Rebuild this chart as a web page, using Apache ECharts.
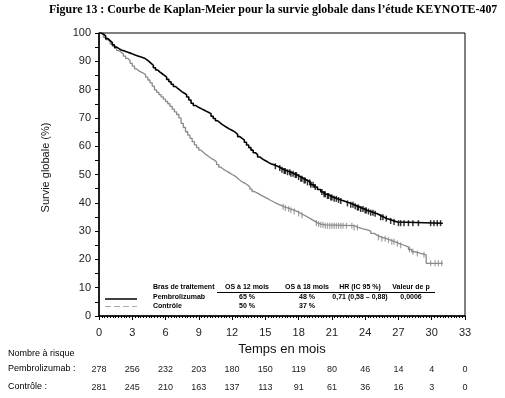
<!DOCTYPE html>
<html>
<head>
<meta charset="UTF-8">
<title>Courbe de Kaplan-Meier KEYNOTE-407</title>
<script src="https://cdn.jsdelivr.net/npm/echarts@6/dist/echarts.min.js"></script>
<style>
  html, body { margin: 0; padding: 0; background: #fff; }
  #chart { width: 505px; height: 398px; }
</style>
</head>
<body>
<div id="chart"></div>
<script type="text/javascript">
// Pembrolizumab : temps (mois) et survie globale (%)
var pembroTime = [0, 0.2, 0.4, 0.6, 0.8, 1.0, 1.2, 1.4, 1.6, 1.8, 2.0, 2.3, 2.6, 2.9, 3.2, 3.5, 3.8, 4.1, 4.3, 4.5, 4.7, 4.9, 5.1, 5.3, 5.5, 5.7, 5.9, 6.1, 6.3, 6.5, 6.7, 6.9, 7.1, 7.3, 7.5, 7.7, 7.9, 8.1, 8.3, 8.5, 8.7, 8.9, 9.1, 9.3, 9.5, 9.7, 9.9, 10.1, 10.3, 10.5, 10.7, 10.9, 11.1, 11.3, 11.5, 11.7, 11.9, 12.1, 12.3, 12.5, 12.7, 12.9, 13.1, 13.3, 13.5, 13.7, 13.9, 14.1, 14.3, 14.5, 14.7, 14.9, 15.1, 15.3, 15.5, 15.8, 16.1, 16.4, 16.7, 17.0, 17.3, 17.6, 17.9, 18.2, 18.5, 18.8, 19.1, 19.4, 19.7, 20.0, 20.3, 20.6, 20.9, 21.2, 21.5, 21.8, 22.1, 22.4, 22.7, 23.0, 23.3, 23.6, 23.9, 24.2, 24.5, 24.8, 25.1, 25.4, 25.7, 26.0, 26.3, 26.6, 26.9, 31.0];
var pembroSurv = [100, 99.6, 99, 98, 97.3, 96.6, 95.8, 95, 94.5, 94, 93.6, 93.2, 92.8, 92.3, 91.9, 91.5, 91.1, 90.6, 90.0, 89.3, 88.6, 87.7, 86.9, 86.2, 85.6, 85, 84.4, 83.6, 82.8, 81.9, 81.1, 80.4, 79.8, 79.2, 78.7, 78.2, 77.4, 76.3, 75.2, 74.4, 73.9, 73.5, 73.1, 72.7, 72.3, 71.9, 71.5, 70.6, 69.8, 69, 68.3, 67.7, 67.2, 66.7, 66.2, 65.8, 65.4, 64.9, 64.2, 63.4, 62.8, 62.2, 61.4, 60.4, 59.5, 58.6, 57.7, 57, 56.2, 55.6, 55.1, 54.7, 54.2, 53.8, 53.4, 52.9, 52.3, 51.7, 51.2, 50.8, 50.3, 49.8, 49.1, 48.5, 47.9, 47.2, 46.4, 45.6, 44.7, 43.8, 43.0, 42.4, 41.9, 41.4, 41, 40.6, 40.2, 39.8, 39.3, 38.8, 38.3, 37.8, 37.3, 36.9, 36.5, 36.1, 35.5, 34.9, 34.4, 34, 33.6, 33.2, 32.8, 32.8];
var pembroCensor = [15.9, 16.3, 16.5, 16.7, 16.8, 17.0, 17.2, 17.3, 17.5, 17.7, 17.8, 18.0, 18.2, 18.3, 18.5, 18.6, 18.8, 19.0, 19.1, 19.3, 19.5, 20.1, 20.3, 20.4, 20.6, 20.7, 20.9, 21.0, 21.2, 21.4, 21.6, 21.8, 22.4, 22.7, 22.9, 23.1, 23.3, 23.4, 23.6, 23.8, 24.0, 24.1, 24.3, 24.5, 24.7, 24.9, 25.4, 25.6, 25.9, 26.3, 26.6, 27.0, 27.2, 27.5, 27.9, 28.3, 28.8, 29.9, 30.2, 30.5, 30.8];

// Contrôle
var ctrlTime = [0, 0.2, 0.4, 0.6, 0.8, 1.0, 1.2, 1.4, 1.6, 1.8, 2.0, 2.2, 2.4, 2.6, 2.8, 3.0, 3.2, 3.4, 3.6, 3.8, 4.0, 4.2, 4.4, 4.6, 4.8, 5.0, 5.2, 5.4, 5.6, 5.8, 6.0, 6.2, 6.4, 6.6, 6.8, 7.0, 7.2, 7.4, 7.6, 7.8, 8.0, 8.2, 8.4, 8.6, 8.8, 9.0, 9.2, 9.4, 9.6, 9.8, 10.0, 10.2, 10.4, 10.6, 10.8, 11.0, 11.2, 11.4, 11.6, 11.8, 12.0, 12.2, 12.4, 12.6, 12.8, 13.0, 13.2, 13.4, 13.6, 13.8, 14.0, 14.3, 14.6, 14.9, 15.2, 15.5, 15.8, 16.1, 16.4, 16.7, 17.0, 17.3, 17.6, 17.9, 18.2, 18.5, 18.8, 19.1, 19.4, 19.7, 20.0, 20.4, 23.0, 23.4, 23.8, 24.2, 24.5, 24.8, 25.1, 25.5, 25.9, 26.3, 26.7, 27.1, 27.5, 27.9, 28.2, 28.5, 29.0, 29.5, 31.0];
var ctrlSurv = [100, 99.3, 98.5, 97.7, 97, 96.2, 95.4, 94.6, 93.8, 93.2, 92.6, 91.8, 91, 90.3, 89.3, 88.3, 87.3, 86.6, 86.2, 85.8, 85.3, 84.4, 83.4, 82.4, 81.2, 79.9, 79, 78.2, 77.4, 76.6, 75.8, 75.0, 74.1, 73.1, 72.1, 71.2, 70, 68.1, 66.6, 65.1, 63.9, 62.8, 61.6, 60.5, 59.5, 58.6, 57.9, 57.2, 56.6, 56, 55.5, 55.1, 54.4, 53.5, 52.6, 51.9, 51.4, 51.0, 50.5, 50, 49.6, 49, 48.3, 47.7, 47.2, 46.8, 46.3, 45.6, 44.8, 44, 43.4, 42.7, 42.1, 41.5, 40.8, 40.2, 39.6, 39.1, 38.6, 38.2, 37.8, 37.4, 36.9, 36.2, 35.6, 35, 34.3, 33.6, 32.9, 32.5, 32.2, 31.9, 31.3, 30.8, 30.4, 30, 29.2, 28.5, 27.8, 27.3, 26.8, 26.2, 25.6, 25, 24.4, 23.5, 22.7, 22.1, 21.6, 18.6, 18.6];
var ctrlCensor = [16.6, 16.8, 17.1, 17.3, 17.6, 18.0, 18.3, 19.6, 19.8, 20.0, 20.2, 20.4, 20.6, 20.8, 21.0, 21.2, 21.4, 21.6, 21.8, 22.0, 22.3, 22.8, 23.0, 23.3, 25.2, 25.5, 25.8, 26.1, 26.4, 26.6, 26.9, 27.2, 28.0, 28.3, 28.7, 29.3, 29.9, 30.3, 30.6, 30.9];

// Nombre à risque
var riskTicks = [0, 3, 6, 9, 12, 15, 18, 21, 24, 27, 30, 33];
var pembroRisk = [278, 256, 232, 203, 180, 150, 119, 80, 46, 14, 4, 0];
var ctrlRisk = [281, 245, 210, 163, 137, 113, 91, 61, 36, 16, 3, 0];

// Tableau de légende
var tableHead = ['Bras de traitement', 'OS à 12 mois', 'OS à 18 mois', 'HR (IC 95 %)', 'Valeur de p'];
var tablePembro = ['Pembrolizumab', '65 %', '48 %', '0,71 (0,58 \u2013 0,88)', '0,0006'];
var tableCtrl = ['Contrôle', '50 %', '37 %', '', ''];

function pairs(t, s) {
    return t.map(function (v, i) { return [v, s[i]]; });
}
// valeur de la courbe en escalier au temps t
function survAt(t, s, x) {
    var v = s[0];
    for (var i = 0; i < t.length; i++) {
        if (t[i] <= x) v = s[i];
    }
    return v;
}
function censorPts(c, t, s) {
    return c.map(function (x) { return [x, survAt(t, s, x)]; });
}

var chart = echarts.init(document.getElementById('chart'));

var txtFont = 'Liberation Sans Narrow, Liberation Sans, Arial, sans-serif';
var sansFont = 'Liberation Sans, Arial, sans-serif';
var colX = [153, 247, 307, 360, 411];
var colAlign = ['left', 'center', 'center', 'center', 'center'];

var tableGraphics = [];
[[tableHead, 287], [tablePembro, 297], [tableCtrl, 306]].forEach(function (row) {
    row[0].forEach(function (s, i) {
        if (!s) return;
        tableGraphics.push({
            type: 'text', x: colX[i], y: row[1],
            style: { text: s, fill: '#000', fontSize: 7, fontWeight: 'bold', fontFamily: txtFont, align: colAlign[i], verticalAlign: 'middle' }
        });
    });
});
tableGraphics.push(
    { type: 'line', shape: { x1: 217, y1: 292.5, x2: 435, y2: 292.5 }, style: { stroke: '#000', lineWidth: 1 } },
    { type: 'line', shape: { x1: 105, y1: 299, x2: 137, y2: 299 }, style: { stroke: '#000', lineWidth: 1.5 } },
    { type: 'line', shape: { x1: 105, y1: 306.5, x2: 137, y2: 306.5 }, style: { stroke: '#aaa', lineWidth: 1.2, lineDash: [6, 3] } },
    { type: 'text', x: 8, y: 354, style: { text: 'Nombre à risque', fill: '#000', fontSize: 9, fontFamily: txtFont, verticalAlign: 'middle' } },
    { type: 'text', x: 8, y: 369, style: { text: 'Pembrolizumab :', fill: '#000', fontSize: 9, fontFamily: txtFont, verticalAlign: 'middle' } },
    { type: 'text', x: 8, y: 387, style: { text: 'Contrôle :', fill: '#000', fontSize: 9, fontFamily: txtFont, verticalAlign: 'middle' } }
);

function riskAxis(arr, off) {
    return {
        type: 'value', min: 0, max: 33, interval: 3, position: 'bottom', offset: off,
        axisLine: { show: false }, axisTick: { show: false }, splitLine: { show: false },
        axisLabel: {
            margin: 5, fontSize: 9, color: '#222', fontFamily: sansFont,
            formatter: function (v) { var i = riskTicks.indexOf(Math.round(v)); return i < 0 ? '' : String(arr[i]); }
        }
    };
}

var option = {
    animation: false,
    backgroundColor: '#fff',
    title: {
        text: 'Figure 13 : Courbe de Kaplan-Meier pour la survie globale dans l\u2019étude KEYNOTE-407',
        left: 49, top: 4, padding: 0,
        textStyle: { fontFamily: 'Liberation Serif, Times New Roman, serif', fontWeight: 'bold', fontSize: 11.9, color: '#000' }
    },
    grid: {
        left: 99, right: 40, top: 33, bottom: 82,
        show: true, borderColor: '#000', borderWidth: 1
    },
    xAxis: [{
        type: 'value', min: 0, max: 33, interval: 3,
        name: 'Temps en mois', nameLocation: 'middle', nameGap: 27,
        nameTextStyle: { fontSize: 13, color: '#111', fontFamily: sansFont },
        axisLine: { lineStyle: { color: '#000', width: 1.5 } },
        axisTick: { length: 4, lineStyle: { color: '#000' } },
        minorTick: { show: true, splitNumber: 12, length: 2, lineStyle: { color: '#000' } },
        axisLabel: { margin: 11, fontSize: 11, color: '#222', fontFamily: sansFont },
        splitLine: { show: false }
    }, riskAxis(pembroRisk, 44), riskAxis(ctrlRisk, 62)],
    yAxis: {
        type: 'value', min: 0, max: 100, interval: 10,
        name: 'Survie globale (%)', nameLocation: 'middle', nameGap: 48, nameRotate: 90,
        nameTextStyle: { fontSize: 11, color: '#111', fontFamily: sansFont, padding: [0, 0, 0, 14] },
        axisLine: { show: true, lineStyle: { color: '#000', width: 1.5 } },
        axisTick: { length: 4, lineStyle: { color: '#000' } },
        minorTick: { show: true, splitNumber: 2, length: 4, lineStyle: { color: '#000' } },
        axisLabel: { margin: 8, fontSize: 11, color: '#222', fontFamily: sansFont },
        splitLine: { show: false }
    },
    graphic: tableGraphics,
    series: [{
        name: 'Contrôle', type: 'line', step: 'end', showSymbol: false,
        data: pairs(ctrlTime, ctrlSurv),
        lineStyle: { color: '#8a8a8a', width: 1.3 }, z: 2
    }, {
        name: 'Pembrolizumab', type: 'line', step: 'end', showSymbol: false,
        data: pairs(pembroTime, pembroSurv),
        lineStyle: { color: '#000', width: 1.6 }, z: 3
    }, {
        name: 'Contrôle censure', type: 'scatter', symbol: 'rect', symbolSize: [1.2, 6],
        data: censorPts(ctrlCensor, ctrlTime, ctrlSurv),
        itemStyle: { color: '#8a8a8a' }, z: 2
    }, {
        name: 'Pembrolizumab censure', type: 'scatter', symbol: 'rect', symbolSize: [1.5, 6],
        data: censorPts(pembroCensor, pembroTime, pembroSurv),
        itemStyle: { color: '#000' }, z: 3
    }]
};

chart.setOption(option);
</script>
</body>
</html>
